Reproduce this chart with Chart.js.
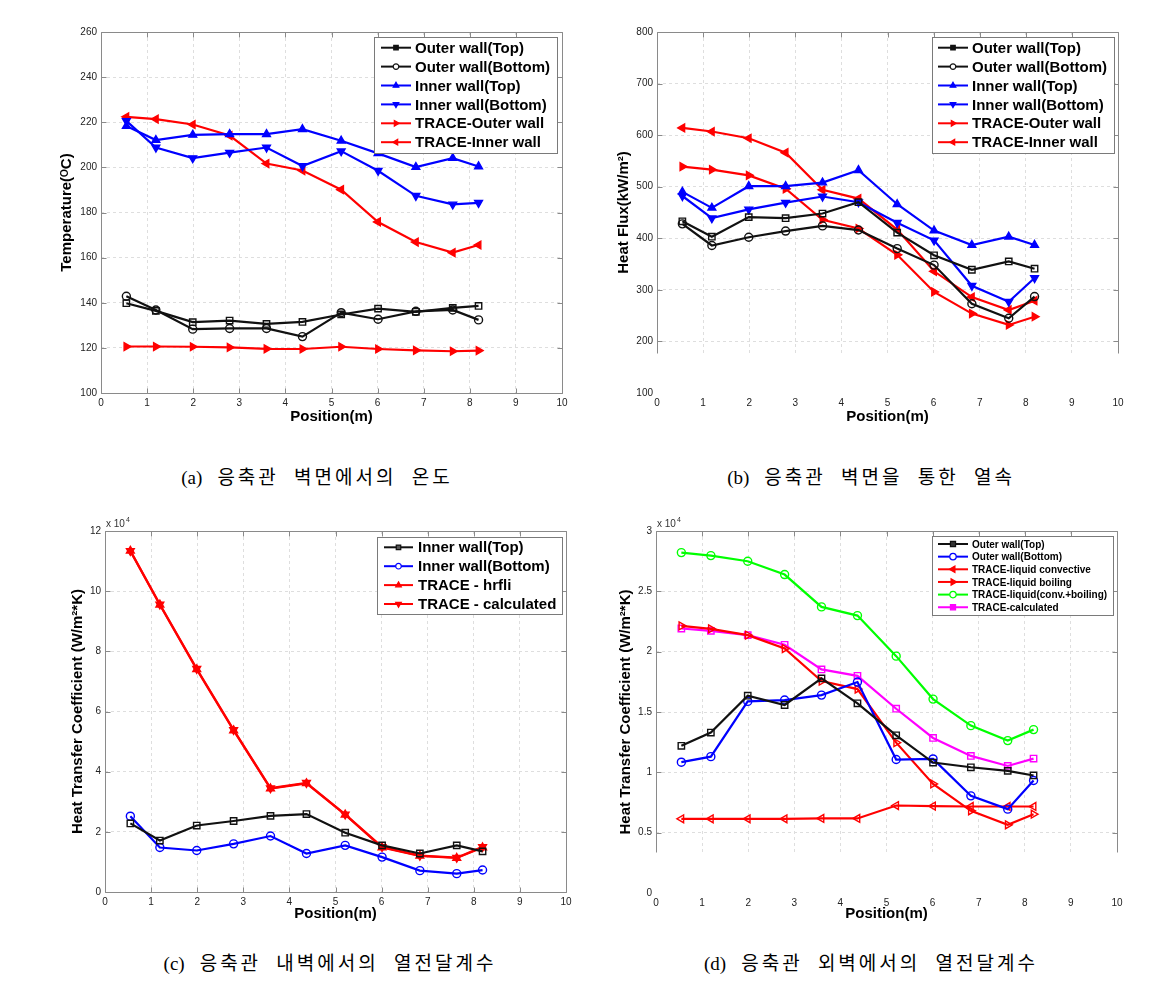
<!DOCTYPE html>
<html><head><meta charset="utf-8">
<script src="https://cdn.jsdelivr.net/npm/chart.js@4.4.1/dist/chart.umd.min.js"></script>
<style>
html,body{margin:0;padding:0;background:#fff;width:1162px;height:1004px;overflow:hidden;position:relative}
canvas{position:absolute}
.cap{position:absolute;font-family:"Liberation Serif","Noto Sans CJK KR",serif;font-size:19px;line-height:22px;color:#000;white-space:nowrap;transform:translateX(-50%)}
.cap .k{letter-spacing:3px;word-spacing:8px;margin-left:15px;font-family:"Noto Sans CJK KR",sans-serif;font-weight:400}
</style></head><body>
<canvas id="ca" width="580" height="440" style="left:0;top:0"></canvas>
<canvas id="cb" width="582" height="440" style="left:580px;top:0"></canvas>
<canvas id="cc" width="580" height="450" style="left:0;top:490px"></canvas>
<canvas id="cd" width="582" height="450" style="left:580px;top:490px"></canvas>
<div class="cap" style="left:317px;top:465px">(a)<span class="k">응축관 벽면에서의 온도</span></div>
<div class="cap" style="left:871px;top:465px">(b)<span class="k">응축관 벽면을 통한 열속</span></div>
<div class="cap" style="left:330px;top:951px">(c)<span class="k">응축관 내벽에서의 열전달계수</span></div>
<div class="cap" style="left:871px;top:951px">(d)<span class="k">응축관 외벽에서의 열전달계수</span></div>
<script>
// ---------- data ----------
const X = [0.55, 1.19, 1.99, 2.79, 3.59, 4.37, 5.21, 6.01, 6.83, 7.63, 8.19];
const xTicks = [0,1,2,3,4,5,6,7,8,9,10];

// (a) Temperature (°C)
const a_outerTop    = [139.8,136.4,131.4,132.1,130.6,131.5,134.8,137.4,136.0,137.7,138.6];
const a_outerBottom = [142.9,136.8,128.3,128.6,128.6,125.0,135.6,132.7,136.2,136.8,132.4];
const a_innerTop    = [218.3,212.1,214.4,214.7,214.7,216.9,211.8,206.2,200.1,204.1,200.4];
const a_innerBottom = [220.6,208.8,204.1,206.5,208.8,200.6,207.2,198.5,187.4,183.6,184.3];
const a_traceOuter  = [120.6,120.6,120.5,120.2,119.6,119.5,120.5,119.5,118.9,118.5,118.8];
const a_traceInner  = [222.4,221.4,219.0,214.1,201.7,198.6,190.1,175.8,166.9,162.2,165.6];

// (b) Heat flux (kW/m2)
const b_outerTop    = [433,403,441,439,448,470,411,367,339,355,341];
const b_outerBottom = [428,386,402,414,424,416,380,348,273,245,287];
const b_innerTop    = [490,459,501,501,508,532,466,415,387,403,387];
const b_innerBottom = [482,439,456,469,481,470,430,396,308,277,323];
const b_traceOuter  = [539,533,522,496,436,419,368,296,254,232,248];
const b_traceInner  = [614,607,594,566,494,477,417,336,286,261,279];

// (c) HTC inner wall (x 10^4 W/m2K)
const c_innerTop    = [2.28,1.71,2.21,2.36,2.53,2.59,1.97,1.55,1.28,1.55,1.35];
const c_innerBottom = [2.52,1.48,1.38,1.60,1.86,1.28,1.55,1.16,0.71,0.61,0.73];
const c_hrfli       = [11.34,9.55,7.40,5.37,3.44,3.61,2.57,1.48,1.20,1.13,1.48];
const c_calculated  = [11.34,9.56,7.42,5.39,3.45,3.63,2.58,1.50,1.21,1.14,1.50];

// (d) HTC outer wall (x 10^4 W/m2K)
const d_outerTop    = [1.220,1.330,1.635,1.558,1.778,1.572,1.307,1.081,1.042,1.012,0.974];
const d_outerBottom = [1.084,1.130,1.588,1.599,1.640,1.748,1.106,1.111,0.805,0.695,0.932];
const d_convective  = [0.615,0.615,0.615,0.615,0.618,0.618,0.725,0.720,0.717,0.717,0.717];
const d_boiling     = [2.214,2.189,2.137,2.026,1.756,1.690,1.246,0.904,0.681,0.565,0.653];
const d_convBoil    = [2.821,2.796,2.749,2.639,2.371,2.299,1.963,1.607,1.387,1.263,1.354];
const d_calculated  = [2.192,2.173,2.137,2.057,1.853,1.800,1.527,1.285,1.136,1.053,1.114];

// ---------- helpers ----------
Chart.defaults.font.family = '"Liberation Sans", Arial, sans-serif';
const BLACK = '#111', BLUE = '#0000ff', RED = '#ff0000', GREEN = '#00ff00', MAG = '#ff00ff';

function ds(label, vals, color, style, rot, open, r, legendFill) {
  return {
    label, data: X.map((x, i) => ({x, y: vals[i]})),
    borderColor: color, backgroundColor: color, borderWidth: 2.2,
    pointStyle: style, pointRotation: rot, pointRadius: r, pointHoverRadius: r,
    pointBackgroundColor: open ? 'rgba(0,0,0,0)' : color, pointBorderColor: color,
    pointBorderWidth: 1.4, tension: 0, fill: false,
    legendFill: legendFill || color
  };
}

function drawMarker(ctx, style, rot, x, y, r, fill, stroke) {
  ctx.save(); ctx.translate(x, y); ctx.rotate((rot || 0) * Math.PI / 180);
  ctx.beginPath();
  if (style === 'circle') ctx.arc(0, 0, r, 0, Math.PI * 2);
  else if (style === 'rect') ctx.rect(-r * 0.8, -r * 0.8, r * 1.6, r * 1.6);
  else { ctx.moveTo(0, -r * 1.15); ctx.lineTo(r, r * 0.6); ctx.lineTo(-r, r * 0.6); ctx.closePath(); }
  ctx.fillStyle = fill; ctx.fill(); ctx.strokeStyle = stroke; ctx.lineWidth = 1.2; ctx.stroke();
  ctx.restore();
}

const framePlugin = {
  id: 'matFrame',
  beforeDatasetsDraw(chart, args, o) {
    const {ctx, chartArea: ca, scales} = chart;
    ctx.save();
    let cut = ca.bottom;
    if (o.cutBelow != null) {
      cut = scales.y.getPixelForValue(o.cutBelow);
      ctx.fillStyle = '#fff';
      ctx.fillRect(ca.left - 2, cut, ca.right - ca.left + 4, ca.bottom - cut + 2);
    }
    const L = Math.round(ca.left) + 0.5, R = Math.round(ca.right) + 0.5,
          T = Math.round(ca.top) + 0.5, B = Math.round(cut) + 0.5;
    ctx.strokeStyle = '#8a8a8a'; ctx.lineWidth = 1; ctx.setLineDash([]);
    ctx.beginPath();
    ctx.moveTo(L, B); ctx.lineTo(L, T); ctx.lineTo(R, T); ctx.lineTo(R, B);
    if (o.cutBelow == null) ctx.lineTo(L, B);
    ctx.stroke();
    ctx.beginPath();
    scales.x.ticks.forEach(t => {
      const px = Math.round(scales.x.getPixelForValue(t.value)) + 0.5;
      ctx.moveTo(px, T); ctx.lineTo(px, T + 5);
      if (o.cutBelow == null) { ctx.moveTo(px, B); ctx.lineTo(px, B - 5); }
    });
    scales.y.ticks.forEach(t => {
      const py = Math.round(scales.y.getPixelForValue(t.value)) + 0.5;
      if (py > B + 1) return;
      ctx.moveTo(L, py); ctx.lineTo(L + 5, py); ctx.moveTo(R, py); ctx.lineTo(R - 5, py);
    });
    ctx.stroke();
    if (o.exp) {
      ctx.fillStyle = '#333'; ctx.textBaseline = 'alphabetic'; ctx.textAlign = 'left';
      ctx.font = '10px "Liberation Sans", Arial';
      const x0 = ca.left + 1, y0 = ca.top - 4;
      ctx.fillText('x 10', x0, y0);
      const w = ctx.measureText('x 10').width;
      ctx.font = '7px "Liberation Sans", Arial';
      ctx.fillText('4', x0 + w + 1, y0 - 5);
    }
    ctx.restore();
  }
};

const boxLegend = {
  id: 'boxLegend',
  afterDraw(chart, args, o) {
    if (!o.box) return;
    const ctx = chart.ctx; const [x0, y0, x1, y1] = o.box;
    ctx.save();
    ctx.fillStyle = '#fff'; ctx.fillRect(x0, y0, x1 - x0, y1 - y0);
    ctx.strokeStyle = '#7a7a7a'; ctx.lineWidth = 1;
    ctx.strokeRect(x0 + 0.5, y0 + 0.5, x1 - x0, y1 - y0);
    chart.data.datasets.forEach((d, i) => {
      const y = o.row0 + i * o.rowStep;
      ctx.strokeStyle = d.borderColor; ctx.lineWidth = 2;
      ctx.beginPath(); ctx.moveTo(o.lineX[0], y); ctx.lineTo(o.lineX[1], y); ctx.stroke();
      drawMarker(ctx, d.pointStyle, d.pointRotation, (o.lineX[0] + o.lineX[1]) / 2, y, o.markerR, d.legendFill, d.borderColor);
      ctx.fillStyle = '#000'; ctx.font = 'bold ' + o.fontSize + 'px "Liberation Sans", Arial';
      ctx.textBaseline = 'middle'; ctx.textAlign = 'left';
      ctx.fillText(d.label, o.textX, y + 1);
    });
    ctx.restore();
  }
};

function makeChart(id, c) {
  return new Chart(document.getElementById(id), {
    type: 'line',
    data: {datasets: c.datasets},
    options: {
      responsive: false, animation: false, devicePixelRatio: 1,
      layout: {padding: c.pad},
      plugins: {legend: {display: false}, tooltip: {enabled: false}, boxLegend: c.legend, matFrame: c.frame},
      scales: {
        x: {
          type: 'linear', min: 0, max: 10,
          afterBuildTicks: s => { s.ticks = xTicks.map(v => ({value: v})); },
          ticks: {color: '#222', font: {size: 10}, padding: 4, maxRotation: 0, autoSkip: false, callback: v => String(v)},
          grid: {color: '#dedede', drawTicks: false, lineWidth: 1},
          border: {display: false, dash: [3, 3]},
          title: {display: true, text: 'Position(m)', color: '#000', font: {size: 15, weight: 'bold'}, padding: {top: 0, bottom: c.xTitlePad}},
          afterFit: s => { s.height = c.xH; }
        },
        y: {
          type: 'linear', min: c.yMin, max: c.yMax,
          afterBuildTicks: s => { s.ticks = c.yTicks.map(v => ({value: v})); },
          ticks: {color: '#222', font: {size: 10}, padding: 4, autoSkip: false, callback: v => String(v)},
          grid: {color: '#dedede', drawTicks: false, lineWidth: 1},
          border: {display: false, dash: [3, 3]},
          title: {display: true, text: c.yTitle, color: '#000', font: {size: 15, weight: 'bold'}, padding: {top: c.yTitlePad, bottom: 0}},
          afterFit: s => { s.width = c.yW; }
        }
      }
    },
    plugins: [framePlugin, boxLegend]
  });
}

// (a)
makeChart('ca', {
  datasets: [
    ds('Outer wall(Top)', a_outerTop, BLACK, 'rect', 0, true, 4.5, BLACK),
    ds('Outer wall(Bottom)', a_outerBottom, BLACK, 'circle', 0, true, 4, '#fff'),
    ds('Inner wall(Top)', a_innerTop, BLUE, 'triangle', 0, false, 4.5),
    ds('Inner wall(Bottom)', a_innerBottom, BLUE, 'triangle', 180, false, 4.5),
    ds('TRACE-Outer wall', a_traceOuter, RED, 'triangle', 90, false, 4.5),
    ds('TRACE-Inner wall', a_traceInner, RED, 'triangle', -90, false, 4.5)
  ],
  pad: {left: 0, top: 32, right: 18, bottom: 0},
  yW: 101, xH: 47, xTitlePad: 14, yTitlePad: 58,
  yMin: 100, yMax: 260, yTicks: [100,120,140,160,180,200,220,240,260],
  yTitle: 'Temperature(ᴼC)',
  legend: {box: [374, 37, 557, 153], row0: 47.7, rowStep: 18.9, lineX: [381, 411], textX: 415, fontSize: 15, markerR: 2.8},
  frame: {}
});

// (b)
makeChart('cb', {
  datasets: [
    ds('Outer wall(Top)', b_outerTop, BLACK, 'rect', 0, true, 4.5, BLACK),
    ds('Outer wall(Bottom)', b_outerBottom, BLACK, 'circle', 0, true, 4, '#fff'),
    ds('Inner wall(Top)', b_innerTop, BLUE, 'triangle', 0, false, 4.5),
    ds('Inner wall(Bottom)', b_innerBottom, BLUE, 'triangle', 180, false, 4.5),
    ds('TRACE-Outer wall', b_traceOuter, RED, 'triangle', 90, false, 4.5),
    ds('TRACE-Inner wall', b_traceInner, RED, 'triangle', -90, false, 4.5)
  ],
  pad: {left: 0, top: 32, right: 44, bottom: 0},
  yW: 77, xH: 47, xTitlePad: 14, yTitlePad: 35,
  yMin: 100, yMax: 800, yTicks: [100,200,300,400,500,600,700,800],
  yTitle: 'Heat Flux(kW/m²)',
  legend: {box: [352, 37, 534, 153], row0: 47.7, rowStep: 18.9, lineX: [358, 388], textX: 392, fontSize: 15, markerR: 2.8},
  frame: {cutBelow: 177}
});

// (c)
makeChart('cc', {
  datasets: [
    ds('Inner wall(Top)', c_innerTop, BLACK, 'rect', 0, true, 4.5, '#555'),
    ds('Inner wall(Bottom)', c_innerBottom, BLUE, 'circle', 0, true, 4, '#fff'),
    ds('TRACE - hrfli', c_hrfli, RED, 'triangle', 0, false, 4.5),
    ds('TRACE - calculated', c_calculated, RED, 'triangle', 180, false, 4.5)
  ],
  pad: {left: 0, top: 41, right: 14, bottom: 0},
  yW: 105, xH: 48, xTitlePad: 17, yTitlePad: 69,
  yMin: 0, yMax: 12, yTicks: [0,2,4,6,8,10,12],
  yTitle: 'Heat Transfer Coefficient (W/m²*K)',
  legend: {box: [377, 47, 562, 124], row0: 57.3, rowStep: 18.9, lineX: [384, 413], textX: 418, fontSize: 15, markerR: 2.8},
  frame: {exp: true}
});

// (d)
makeChart('cd', {
  datasets: [
    ds('Outer wall(Top)', d_outerTop, BLACK, 'rect', 0, true, 4.5, '#333'),
    ds('Outer wall(Bottom)', d_outerBottom, BLUE, 'circle', 0, true, 4, '#fff'),
    ds('TRACE-liquid convective', d_convective, RED, 'triangle', -90, true, 4.5),
    ds('TRACE-liquid boiling', d_boiling, RED, 'triangle', 90, true, 4.5),
    ds('TRACE-liquid(conv.+boiling)', d_convBoil, GREEN, 'circle', 0, true, 4, '#fff'),
    ds('TRACE-calculated', d_calculated, MAG, 'rect', 0, true, 4.5)
  ],
  pad: {left: 0, top: 41, right: 45, bottom: 0},
  yW: 76, xH: 47, xTitlePad: 17, yTitlePad: 37,
  yMin: 0, yMax: 3, yTicks: [0,0.5,1,1.5,2,2.5,3],
  yTitle: 'Heat Transfer Coefficient (W/m²*K)',
  legend: {box: [352, 46, 533, 125], row0: 54, rowStep: 12.65, lineX: [358, 388], textX: 392, fontSize: 10, markerR: 3.2},
  frame: {cutBelow: 0.34, exp: true}
});
</script>
</body></html>
